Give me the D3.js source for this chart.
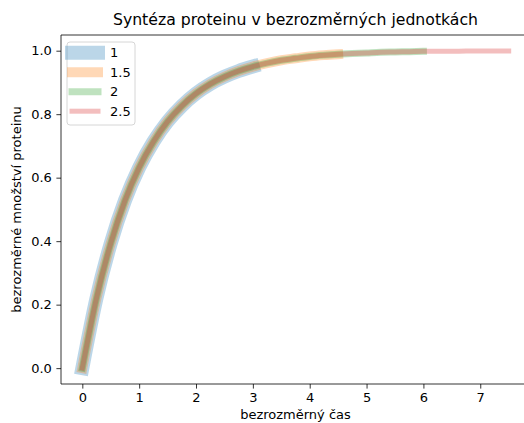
<!DOCTYPE html>
<html>
<head>
<meta charset="utf-8">
<script src="https://cdn.jsdelivr.net/npm/d3@7"></script>
<style>
  html, body { margin: 0; padding: 0; background: #fff; overflow: hidden; }
  svg { display: block; font-family: "DejaVu Sans", sans-serif; }
</style>
</head>
<body>
<svg id="chart" width="524" height="423"></svg>
<script>
// Dimensionless time samples and protein amount
const times = [0, 0.25, 0.5, 0.75, 1.0, 1.25, 1.5, 1.75, 2.0, 2.25, 2.5, 2.75, 3.0,
  3.25, 3.5, 3.75, 4.0, 4.25, 4.5, 4.75, 5.0, 5.25, 5.5, 5.75, 6.0,
  6.25, 6.5, 6.75, 7.0, 7.25, 7.5];
const protein = [0, 0.221, 0.393, 0.528, 0.632, 0.713, 0.777, 0.826, 0.865, 0.895, 0.918, 0.936, 0.950,
  0.961, 0.970, 0.976, 0.982, 0.986, 0.989, 0.991, 0.993, 0.995, 0.996, 0.997, 0.998,
  0.998, 0.998, 0.999, 0.999, 0.999, 0.999];

// Series labels and the time span each one covers
const seriesLabels = ["1", "1.5", "2", "2.5"];
const seriesEnd = [3, 4.5, 6, 7.5];
const seriesColors = ["#1f77b4", "#ff7f0e", "#2ca02c", "#d62728"];
const seriesWidths = [14, 10, 7, 5];

const xTicks = [0, 1, 2, 3, 4, 5, 6, 7];
const yTicks = [0, 0.2, 0.4, 0.6, 0.8, 1.0];

const title = "Syntéza proteinu v bezrozměrných jednotkách";
const xLabel = "bezrozměrný čas";
const yLabel = "bezrozměrné množství proteinu";

const svg = d3.select("#chart");
const plot = { left: 61, top: 35, right: 530, bottom: 384 };

const x = d3.scaleLinear().domain([-0.375, 7.875]).range([plot.left, plot.right]);
const y = d3.scaleLinear().domain([-0.04997, 1.04942]).range([plot.bottom, plot.top]);

const points = times.map((t, i) => ({ t, v: protein[i] }));

const clipId = "plot-clip";
svg.append("defs").append("clipPath").attr("id", clipId)
  .append("rect")
  .attr("x", plot.left).attr("y", plot.top)
  .attr("width", plot.right - plot.left).attr("height", plot.bottom - plot.top);

const line = d3.line().x(d => x(d.t)).y(d => y(d.v)).curve(d3.curveMonotoneX);

const lines = svg.append("g").attr("clip-path", `url(#${clipId})`);
seriesLabels.forEach((lab, i) => {
  lines.append("path")
    .datum(points.filter(p => p.t <= seriesEnd[i] + 1e-9))
    .attr("d", line)
    .attr("fill", "none")
    .attr("stroke", seriesColors[i])
    .attr("stroke-opacity", 0.3)
    .attr("stroke-width", seriesWidths[i])
    .attr("stroke-linecap", "square")
    .attr("stroke-linejoin", "round");
});

// Axes
const tickSize = 4.6;
const xAxis = svg.append("g")
  .attr("transform", `translate(0,${plot.bottom})`)
  .call(d3.axisBottom(x).tickValues(xTicks).tickFormat(d3.format("d")).tickSize(tickSize).tickPadding(4.5));
const yAxis = svg.append("g")
  .attr("transform", `translate(${plot.left},0)`)
  .call(d3.axisLeft(y).tickValues(yTicks).tickFormat(d3.format(".1f")).tickSize(tickSize).tickPadding(4.5));

[xAxis, yAxis].forEach(g => {
  g.select(".domain").remove();
  g.selectAll("line").attr("stroke", "#000").attr("stroke-width", 0.8);
  g.selectAll("text").attr("font-size", 13).attr("fill", "#000")
    .attr("font-family", "DejaVu Sans, sans-serif");
});

// Spines: left, bottom, top (right lies outside the view)
const spine = svg.append("g").attr("stroke", "#000").attr("stroke-width", 0.8).attr("fill", "none");
spine.append("line").attr("x1", plot.left).attr("x2", plot.left).attr("y1", plot.top).attr("y2", plot.bottom);
spine.append("line").attr("x1", plot.left).attr("x2", plot.right).attr("y1", plot.bottom).attr("y2", plot.bottom);
spine.append("line").attr("x1", plot.left).attr("x2", plot.right).attr("y1", plot.top).attr("y2", plot.top);
spine.append("line").attr("x1", plot.right).attr("x2", plot.right).attr("y1", plot.top).attr("y2", plot.bottom);

// Title and axis labels
svg.append("text")
  .attr("x", (plot.left + plot.right) / 2).attr("y", 25)
  .attr("text-anchor", "middle").attr("font-size", 15.7).text(title);
svg.append("text")
  .attr("x", (plot.left + plot.right) / 2).attr("y", 418.5)
  .attr("text-anchor", "middle").attr("font-size", 13).text(xLabel);
svg.append("text")
  .attr("transform", `translate(21,${(plot.top + plot.bottom) / 2}) rotate(-90)`)
  .attr("text-anchor", "middle").attr("font-size", 13).text(yLabel);

// Legend
const legend = svg.append("g");
legend.append("rect")
  .attr("x", 67).attr("y", 42).attr("width", 68).attr("height", 83)
  .attr("rx", 3).attr("ry", 3)
  .attr("fill", "#fff").attr("fill-opacity", 0.8)
  .attr("stroke", "#d6d6d6").attr("stroke-width", 1);
seriesLabels.forEach((lab, i) => {
  const cy = 52.7 + i * 19.5;
  legend.append("line")
    .attr("x1", 72).attr("x2", 98).attr("y1", cy).attr("y2", cy)
    .attr("stroke", seriesColors[i]).attr("stroke-opacity", 0.3)
    .attr("stroke-width", seriesWidths[i]).attr("stroke-linecap", "square");
  legend.append("text")
    .attr("x", 110).attr("y", cy + 4.6)
    .attr("font-size", 13).text(lab);
});
</script>
</body>
</html>
